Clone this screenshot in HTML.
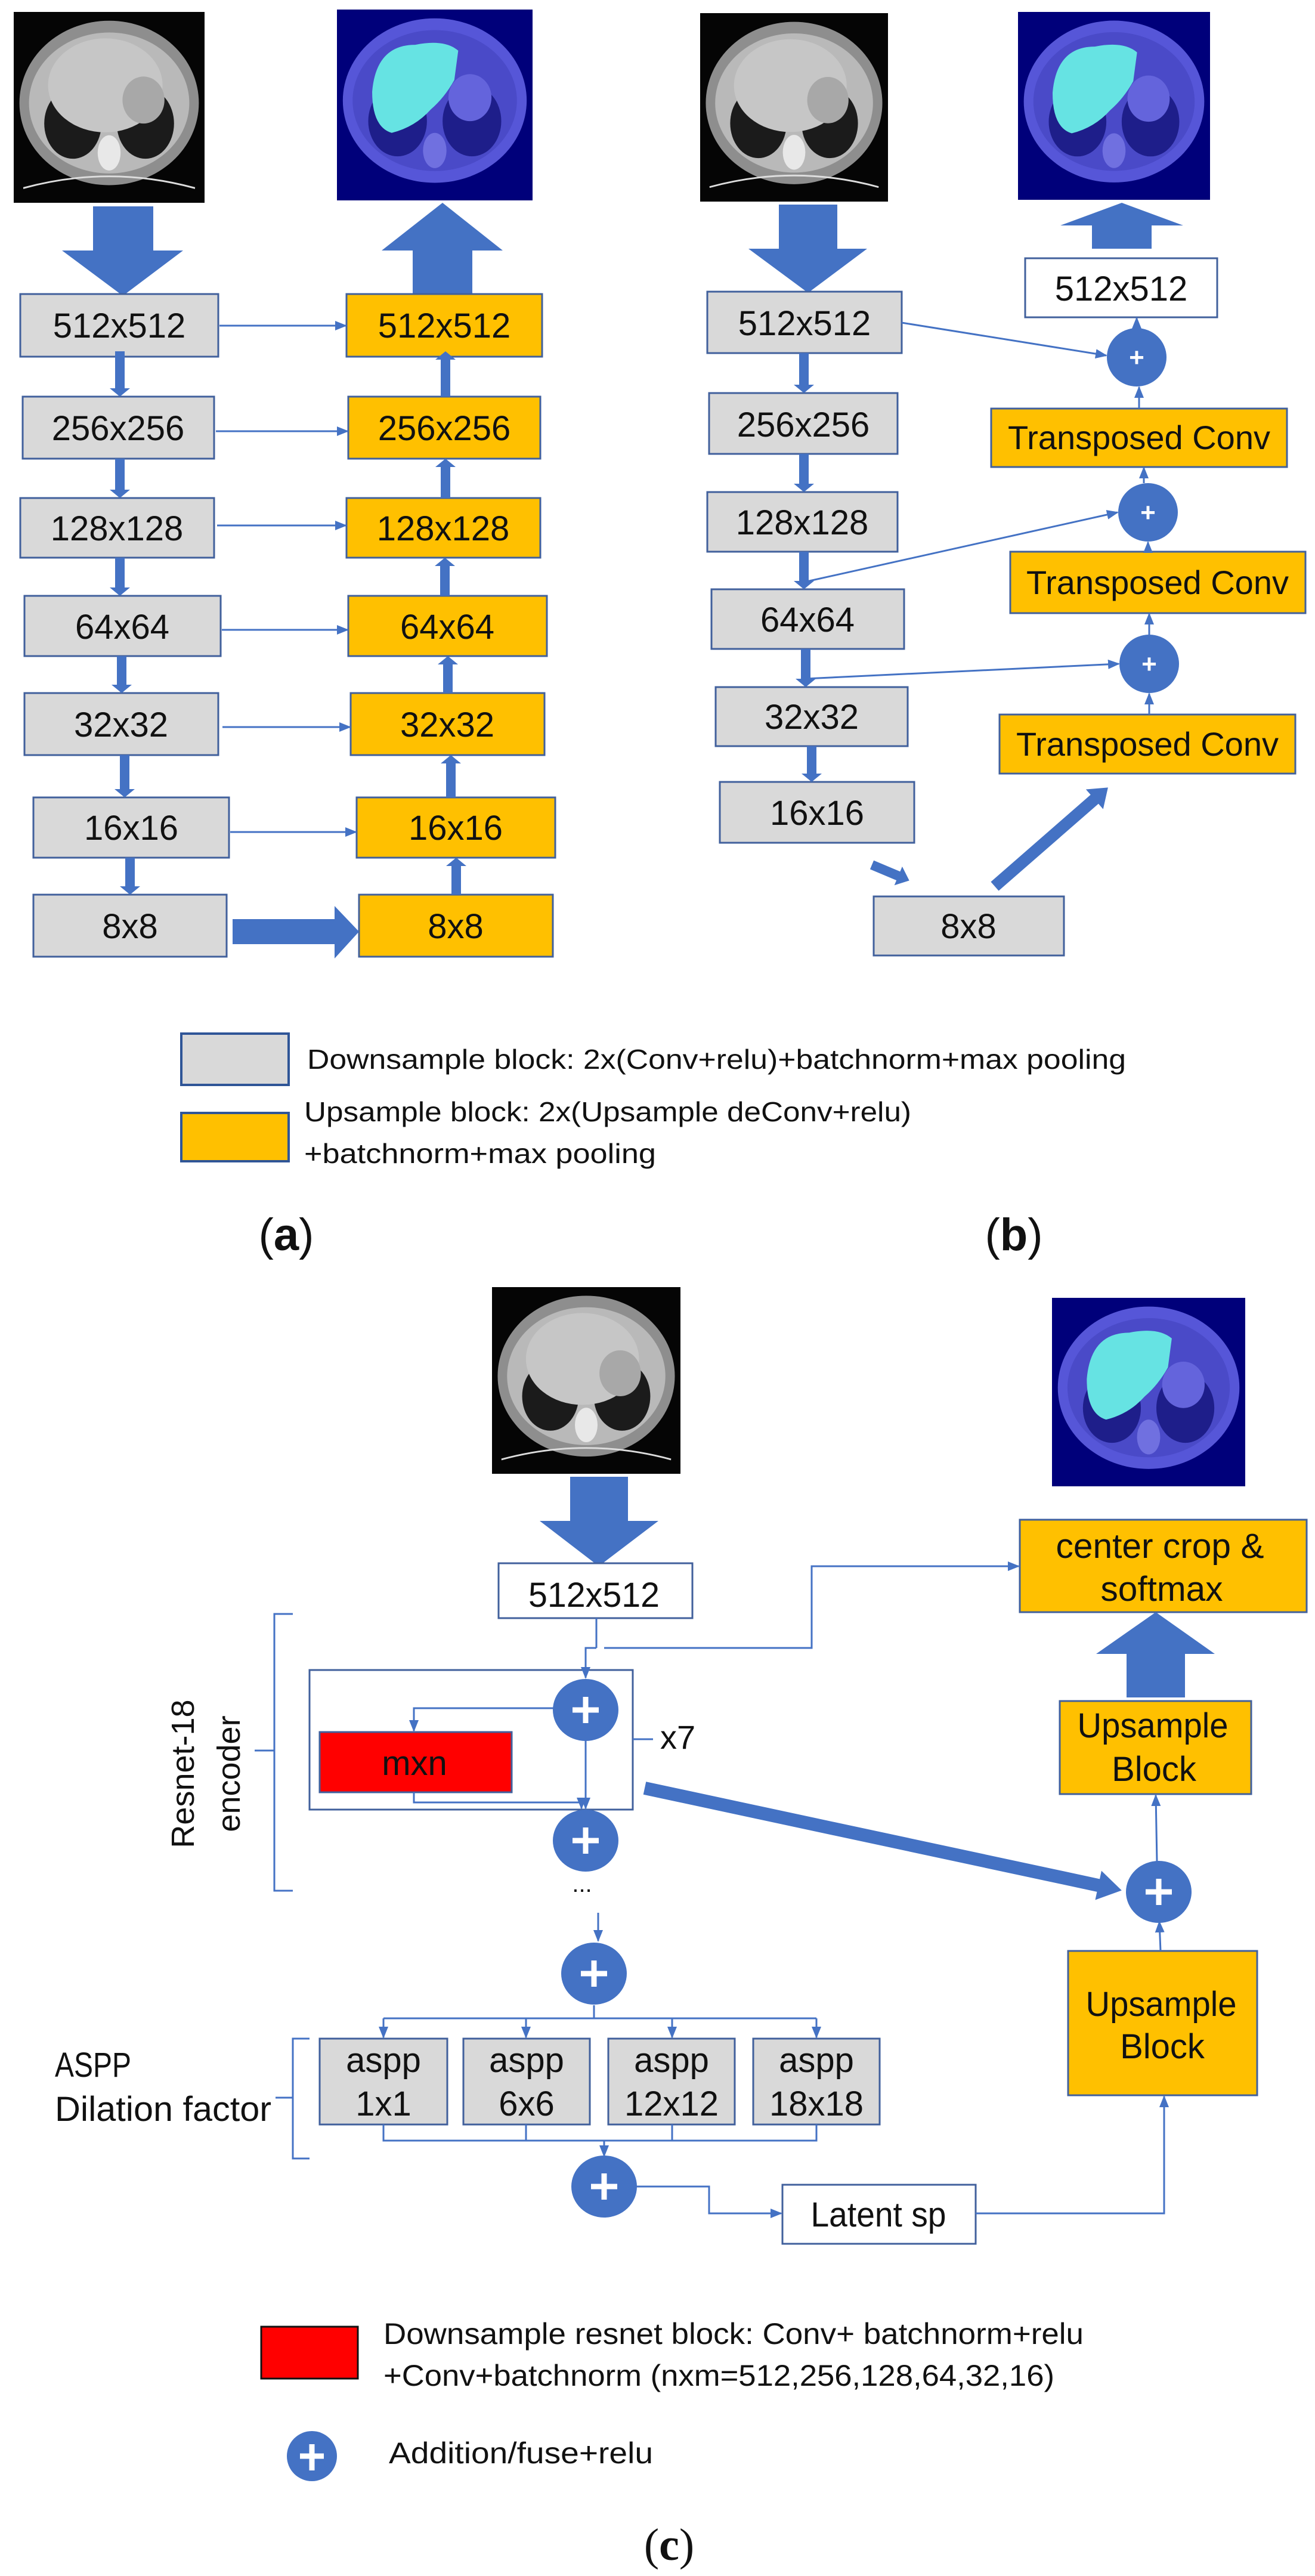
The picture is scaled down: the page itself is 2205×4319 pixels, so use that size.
<!DOCTYPE html>
<html><head><meta charset="utf-8"><style>
html,body{margin:0;padding:0;background:#fff}
svg{display:block}
text{font-family:"Liberation Sans",sans-serif;fill:#111}
</style></head><body>
<svg width="2205" height="4319" viewBox="0 0 2205 4319" xmlns="http://www.w3.org/2000/svg">
<defs>
<marker id="ar" markerUnits="userSpaceOnUse" markerWidth="20" markerHeight="16" refX="18" refY="8" orient="auto"><path d="M0,0 L20,8 L0,16 Z" fill="#4472C4"/></marker>
<symbol id="ct" viewBox="0 0 100 65" preserveAspectRatio="none">
<rect width="100" height="65" fill="#050505"/>
<ellipse cx="50" cy="31" rx="47" ry="28" fill="#8e8e8e"/>
<ellipse cx="50" cy="31" rx="42" ry="24" fill="#b9b9b9"/>
<ellipse cx="31" cy="38" rx="15" ry="12" fill="#1b1b1b"/>
<ellipse cx="69" cy="38" rx="15" ry="12" fill="#1b1b1b"/>
<ellipse cx="48" cy="25" rx="30" ry="16" fill="#c6c6c6"/>
<ellipse cx="68" cy="30" rx="11" ry="8" fill="#a8a8a8"/>
<ellipse cx="50" cy="48" rx="6" ry="6" fill="#e8e8e8"/>
<path d="M5,60 Q50,52 95,60" stroke="#ddd" stroke-width="0.6" fill="none"/>
</symbol>
<symbol id="seg" viewBox="0 0 100 65" preserveAspectRatio="none">
<rect width="100" height="65" fill="#00007a"/>
<ellipse cx="50" cy="31" rx="47" ry="28" fill="#5656d8"/>
<ellipse cx="50" cy="31" rx="42" ry="24" fill="#4a4ac8"/>
<ellipse cx="31" cy="38" rx="15" ry="12" fill="#1e1e8a"/>
<ellipse cx="69" cy="38" rx="15" ry="12" fill="#1e1e8a"/>
<ellipse cx="68" cy="30" rx="11" ry="8" fill="#6464dc"/>
<path d="M18,28 Q20,12 40,12 Q55,10 62,14 L60,24 Q55,30 48,34 Q40,40 28,42 Q18,40 18,28 Z" fill="#66e3e3"/>
<ellipse cx="50" cy="48" rx="6" ry="6" fill="#7070e0"/>
</symbol>
</defs>

<!-- ===== (a) ===== -->
<use href="#ct" x="23" y="20" width="320" height="320"/>
<use href="#seg" x="565" y="16" width="328" height="320"/>
<polygon points="156,346 257,346 257,420 307,420 206,496 104,420 156,420" fill="#4472C4"/>
<polygon points="692,493 792,493 792,420 843,420 742,340 640,420 692,420" fill="#4472C4"/>
<g fill="#D9D9D9" stroke="#41609c" stroke-width="3">
<rect x="34" y="493" width="332" height="105"/>
<rect x="38" y="665" width="321" height="104"/>
<rect x="34" y="835" width="325" height="100"/>
<rect x="41" y="999" width="329" height="101"/>
<rect x="41" y="1162" width="325" height="104"/>
<rect x="56" y="1337" width="328" height="101"/>
<rect x="56" y="1500" width="324" height="104"/>
</g>
<g fill="#FFC000" stroke="#41609c" stroke-width="3">
<rect x="581" y="493" width="328" height="105"/>
<rect x="584" y="665" width="322" height="104"/>
<rect x="581" y="835" width="325" height="100"/>
<rect x="584" y="999" width="333" height="101"/>
<rect x="588" y="1162" width="325" height="104"/>
<rect x="598" y="1337" width="333" height="101"/>
<rect x="602" y="1500" width="325" height="104"/>
</g>
<g fill="#4472C4">
<polygon points="193,589 209,589 209,651 218,651 201,665 184,651 193,651"/>
<polygon points="193,769 209,769 209,821 218,821 201,835 184,821 193,821"/>
<polygon points="193,935 209,935 209,985 218,985 201,999 184,985 193,985"/>
<polygon points="196,1100 212,1100 212,1148 221,1148 204,1162 187,1148 196,1148"/>
<polygon points="201,1266 217,1266 217,1323 226,1323 209,1337 192,1323 201,1323"/>
<polygon points="210,1438 226,1438 226,1486 235,1486 218,1500 201,1486 210,1486"/>
<polygon points="739,665 755,665 755,603 764,603 747,589 730,603 739,603"/>
<polygon points="739,835 755,835 755,783 764,783 747,769 730,783 739,783"/>
<polygon points="738,999 754,999 754,949 763,949 746,935 729,949 738,949"/>
<polygon points="743,1162 759,1162 759,1114 768,1114 751,1100 734,1114 743,1114"/>
<polygon points="748,1337 764,1337 764,1280 773,1280 756,1266 739,1280 748,1280"/>
<polygon points="757,1500 773,1500 773,1452 782,1452 765,1438 748,1452 757,1452"/>
<polygon points="390,1541 561,1541 561,1519 602,1562 561,1607 561,1583 390,1583"/>
</g>
<g stroke="#4472C4" stroke-width="3" marker-end="url(#ar)">
<line x1="368" y1="546" x2="580" y2="546"/>
<line x1="362" y1="723" x2="583" y2="723"/>
<line x1="364" y1="881" x2="580" y2="881"/>
<line x1="372" y1="1056" x2="583" y2="1056"/>
<line x1="373" y1="1219" x2="587" y2="1219"/>
<line x1="386" y1="1395" x2="597" y2="1395"/>
</g>
<g font-size="58" text-anchor="middle">
<text x="200" y="566">512x512</text><text x="198" y="738">256x256</text><text x="196" y="906">128x128</text>
<text x="205" y="1071">64x64</text><text x="203" y="1235">32x32</text><text x="220" y="1408">16x16</text><text x="218" y="1573">8x8</text>
<text x="745" y="566">512x512</text><text x="745" y="738">256x256</text><text x="743" y="906">128x128</text>
<text x="750" y="1071">64x64</text><text x="750" y="1235">32x32</text><text x="764" y="1408">16x16</text><text x="764" y="1573">8x8</text>
</g>

<!-- ===== (b) ===== -->
<use href="#ct" x="1174" y="22" width="315" height="316"/>
<use href="#seg" x="1707" y="20" width="322" height="315"/>
<polygon points="1306,343 1404,343 1404,417 1454,417 1355,491 1255,417 1306,417" fill="#4472C4"/>
<polygon points="1831,417 1931,417 1931,378 1984,378 1881,340 1778,378 1831,378" fill="#4472C4"/>
<rect x="1719" y="433" width="322" height="99" fill="#fff" stroke="#41609c" stroke-width="3"/>
<g fill="#D9D9D9" stroke="#41609c" stroke-width="3">
<rect x="1186" y="489" width="326" height="103"/>
<rect x="1189" y="659" width="316" height="102"/>
<rect x="1186" y="825" width="319" height="100"/>
<rect x="1193" y="988" width="323" height="100"/>
<rect x="1200" y="1152" width="322" height="99"/>
<rect x="1207" y="1311" width="326" height="102"/>
<rect x="1465" y="1503" width="319" height="99"/>
</g>
<g fill="#FFC000" stroke="#41609c" stroke-width="3">
<rect x="1662" y="685" width="496" height="98"/>
<rect x="1694" y="925" width="495" height="103"/>
<rect x="1676" y="1198" width="496" height="99"/>
</g>
<g fill="#4472C4">
<polygon points="1340,592 1356,592 1356,645 1365,645 1348,659 1331,645 1340,645"/>
<polygon points="1340,761 1356,761 1356,811 1365,811 1348,825 1331,811 1340,811"/>
<polygon points="1340,925 1356,925 1356,974 1365,974 1348,988 1331,974 1340,974"/>
<polygon points="1343,1088 1359,1088 1359,1138 1368,1138 1351,1152 1334,1138 1343,1138"/>
<polygon points="1353,1251 1369,1251 1369,1297 1378,1297 1361,1311 1344,1297 1353,1297"/>
<ellipse cx="1906" cy="599" rx="50" ry="49"/>
<ellipse cx="1925" cy="859" rx="50" ry="49"/>
<ellipse cx="1927" cy="1113" rx="50" ry="49"/>
<g transform="translate(1462,1450) rotate(22.8)"><polygon points="0,-8 48,-8 48,-17 68,0 48,17 48,8 0,8"/></g>
<g transform="translate(1668,1486) rotate(-41.1)"><polygon points="0,-10 222,-10 222,-22 252,0 222,22 222,10 0,10"/></g>
</g>
<g font-size="44" font-weight="bold" fill="#fff" text-anchor="middle">
<text x="1906" y="614" style="fill:#fff">+</text><text x="1925" y="874" style="fill:#fff">+</text><text x="1927" y="1128" style="fill:#fff">+</text>
</g>
<g stroke="#4472C4" stroke-width="3" marker-end="url(#ar)">
<line x1="1512" y1="541" x2="1855" y2="596"/>
<line x1="1348" y1="976" x2="1874" y2="859"/>
<line x1="1350" y1="1138" x2="1876" y2="1113"/>
<line x1="1906" y1="550" x2="1906" y2="533"/>
<line x1="1910" y1="685" x2="1910" y2="649"/>
<line x1="1918" y1="810" x2="1918" y2="784"/>
<line x1="1925" y1="925" x2="1925" y2="909"/>
<line x1="1927" y1="1198" x2="1927" y2="1163"/>
<line x1="1927" y1="1064" x2="1927" y2="1029"/>
</g>
<g font-size="58" text-anchor="middle">
<text x="1880" y="504">512x512</text>
<text x="1349" y="562">512x512</text><text x="1347" y="732">256x256</text><text x="1345" y="896">128x128</text>
<text x="1354" y="1059">64x64</text><text x="1361" y="1222">32x32</text><text x="1370" y="1383">16x16</text><text x="1624" y="1573">8x8</text>
</g>
<g font-size="56" text-anchor="middle">
<text x="1910" y="753">Transposed Conv</text><text x="1941" y="996">Transposed Conv</text><text x="1924" y="1267">Transposed Conv</text>
</g>

<!-- legend ab -->
<rect x="304" y="1733" width="180" height="86" fill="#D9D9D9" stroke="#2F5597" stroke-width="4"/>
<rect x="304" y="1866" width="180" height="81" fill="#FFC000" stroke="#2F5597" stroke-width="4"/>
<g font-size="46">
<text x="515" y="1792" textLength="1373" lengthAdjust="spacingAndGlyphs">Downsample block: 2x(Conv+relu)+batchnorm+max pooling</text>
<text x="510" y="1880" textLength="1018" lengthAdjust="spacingAndGlyphs">Upsample block: 2x(Upsample deConv+relu)</text>
<text x="510" y="1950" textLength="590" lengthAdjust="spacingAndGlyphs">+batchnorm+max pooling</text>
</g>
<g font-family="Liberation Serif" font-size="76" text-anchor="middle" style="font-family:'Liberation Serif',serif">
<text x="480" y="2096">(<tspan font-weight="bold">a</tspan>)</text>
<text x="1700" y="2096">(<tspan font-weight="bold">b</tspan>)</text>
</g>

<!-- ===== (c) ===== -->
<use href="#ct" x="825" y="2158" width="316" height="313"/>
<use href="#seg" x="1764" y="2176" width="324" height="316"/>
<polygon points="956,2476 1053,2476 1053,2550 1104,2550 1004,2626 905,2550 956,2550" fill="#4472C4"/>
<rect x="836" y="2621" width="325" height="92" fill="#fff" stroke="#41609c" stroke-width="3"/>
<rect x="1710" y="2548" width="481" height="155" fill="#FFC000" stroke="#41609c" stroke-width="3"/>
<polygon points="1889,2846 1987,2846 1987,2773 2037,2773 1938,2703 1838,2773 1889,2773" fill="#4472C4"/>
<rect x="1777" y="2852" width="321" height="156" fill="#FFC000" stroke="#41609c" stroke-width="3"/>
<rect x="1791" y="3271" width="317" height="242" fill="#FFC000" stroke="#41609c" stroke-width="3"/>
<rect x="519" y="2800" width="542" height="234" fill="none" stroke="#41609c" stroke-width="3"/>
<rect x="536" y="2904" width="322" height="101" fill="#FF0000" stroke="#41609c" stroke-width="3"/>
<g fill="#D9D9D9" stroke="#41609c" stroke-width="3">
<rect x="536" y="3418" width="214" height="144"/>
<rect x="777" y="3418" width="212" height="144"/>
<rect x="1020" y="3418" width="212" height="144"/>
<rect x="1263" y="3418" width="212" height="144"/>
</g>
<rect x="1312" y="3663" width="324" height="99" fill="#fff" stroke="#41609c" stroke-width="3"/>
<!-- thin connectors -->
<g stroke="#4472C4" stroke-width="3" fill="none">
<polyline points="1000,2713 1000,2763"/>
<polyline points="1013,2763 1361,2763 1361,2626 1708,2626" marker-end="url(#ar)"/>
<polyline points="1000,2763 982,2763 982,2813" marker-end="url(#ar)"/>
<polyline points="930,2864 694,2864 694,2902" marker-end="url(#ar)"/>
<line x1="982" y1="2919" x2="982" y2="3032" marker-end="url(#ar)"/>
<polyline points="694,3005 694,3022 975,3022 975,3032" marker-end="url(#ar)"/>
<line x1="1003" y1="3207" x2="1003" y2="3254" marker-end="url(#ar)"/>
<polyline points="996,3362 996,3384"/>
<line x1="643" y1="3384" x2="1369" y2="3384"/>
<line x1="643" y1="3384" x2="643" y2="3416" marker-end="url(#ar)"/>
<line x1="882" y1="3384" x2="882" y2="3416" marker-end="url(#ar)"/>
<line x1="1127" y1="3384" x2="1127" y2="3416" marker-end="url(#ar)"/>
<line x1="1369" y1="3384" x2="1369" y2="3416" marker-end="url(#ar)"/>
<polyline points="643,3562 643,3589 1369,3589 1369,3562"/>
<line x1="882" y1="3562" x2="882" y2="3589"/>
<line x1="1127" y1="3562" x2="1127" y2="3589"/>
<line x1="1013" y1="3589" x2="1013" y2="3615" marker-end="url(#ar)"/>
<polyline points="1067,3666 1189,3666 1189,3711 1310,3711" marker-end="url(#ar)"/>
<polyline points="1636,3711 1952,3711 1952,3515" marker-end="url(#ar)"/>
<line x1="1946" y1="3271" x2="1944" y2="3222" marker-end="url(#ar)"/>
<line x1="1940" y1="3122" x2="1938" y2="3010" marker-end="url(#ar)"/>
<polyline points="1061,2916 1095,2916"/>
<!-- braces -->
<polyline points="491,2706 460,2706 460,3170 491,3170"/>
<line x1="427" y1="2935" x2="460" y2="2935"/>
<polyline points="519,3418 491,3418 491,3619 519,3619"/>
<line x1="462" y1="3517" x2="491" y2="3517"/>
</g>
<g fill="#4472C4">
<ellipse cx="982" cy="2867" rx="55" ry="52"/>
<ellipse cx="982" cy="3086" rx="55" ry="52"/>
<ellipse cx="996" cy="3309" rx="55" ry="52"/>
<ellipse cx="1013" cy="3666" rx="55" ry="52"/>
<ellipse cx="1943" cy="3172" rx="55" ry="52"/>
<circle cx="523" cy="4118" r="42"/>
<g transform="translate(1081,2998) rotate(12.1)"><polygon points="0,-11 778,-11 778,-25 818,0 778,25 778,11 0,11"/></g>
</g>
<g stroke="#fff" stroke-width="9">
<line x1="982" y1="2845" x2="982" y2="2889"/><line x1="960" y1="2867" x2="1004" y2="2867"/>
<line x1="982" y1="3064" x2="982" y2="3108"/><line x1="960" y1="3086" x2="1004" y2="3086"/>
<line x1="996" y1="3287" x2="996" y2="3331"/><line x1="974" y1="3309" x2="1018" y2="3309"/>
<line x1="1013" y1="3644" x2="1013" y2="3688"/><line x1="991" y1="3666" x2="1035" y2="3666"/>
<line x1="1943" y1="3150" x2="1943" y2="3194"/><line x1="1921" y1="3172" x2="1965" y2="3172"/>
<line x1="523" y1="4098" x2="523" y2="4142"/><line x1="503" y1="4118" x2="543" y2="4118"/>
</g>
<rect x="470" y="4160" width="110" height="30" fill="#fff"/>
<!-- texts (c) -->
<g font-size="58" text-anchor="middle">
<text x="996" y="2694" textLength="220" lengthAdjust="spacingAndGlyphs">512x512</text>
<text x="1945" y="2612" textLength="349" lengthAdjust="spacingAndGlyphs">center crop &amp;</text>
<text x="1948" y="2684" textLength="205" lengthAdjust="spacingAndGlyphs">softmax</text>
<text x="1933" y="2913" textLength="253" lengthAdjust="spacingAndGlyphs">Upsample</text>
<text x="1935" y="2986">Block</text>
<text x="1947" y="3380" textLength="253" lengthAdjust="spacingAndGlyphs">Upsample</text>
<text x="1949" y="3451">Block</text>
<text x="695" y="2976">mxn</text>
<text x="1473" y="3733" textLength="227" lengthAdjust="spacingAndGlyphs">Latent sp</text>
<text x="643" y="3474">aspp</text><text x="643" y="3547">1x1</text>
<text x="883" y="3474">aspp</text><text x="883" y="3547">6x6</text>
<text x="1126" y="3474">aspp</text><text x="1126" y="3547">12x12</text>
<text x="1369" y="3474">aspp</text><text x="1369" y="3547">18x18</text>
</g>
<text x="1107" y="2932" font-size="56">x7</text>
<text x="976" y="3172" font-size="40" text-anchor="middle">...</text>
<g font-size="54" text-anchor="middle">
<text transform="translate(325,2974) rotate(-90)">Resnet-18</text>
<text transform="translate(402,2974) rotate(-90)">encoder</text>
</g>
<text x="92" y="3482" font-size="58" textLength="128" lengthAdjust="spacingAndGlyphs">ASPP</text>
<text x="92" y="3556" font-size="58" textLength="363" lengthAdjust="spacingAndGlyphs">Dilation factor</text>
<!-- legend c -->
<rect x="438" y="3901" width="162" height="87" fill="#FF0000" stroke="#111" stroke-width="3"/>
<g font-size="50">
<text x="643" y="3930" textLength="1174" lengthAdjust="spacingAndGlyphs">Downsample resnet block: Conv+ batchnorm+relu</text>
<text x="643" y="4000" textLength="1125" lengthAdjust="spacingAndGlyphs">+Conv+batchnorm (nxm=512,256,128,64,32,16)</text>
<text x="652" y="4130" textLength="443" lengthAdjust="spacingAndGlyphs">Addition/fuse+relu</text>
</g>
<text x="1122" y="4292" font-size="76" text-anchor="middle" style="font-family:'Liberation Serif',serif">(<tspan font-weight="bold">c</tspan>)</text>
</svg>
</body></html>
